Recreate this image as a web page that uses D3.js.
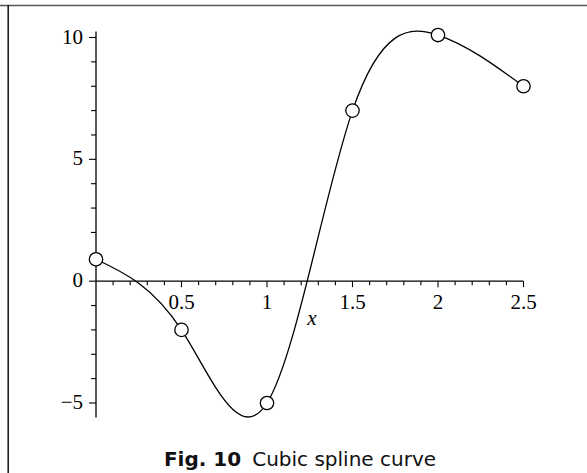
<!DOCTYPE html>
<html>
<head>
<meta charset="utf-8">
<script src="https://cdn.jsdelivr.net/npm/d3@7"></script>
<style>
  html, body { margin: 0; padding: 0; background: #fff; }
  svg { display: block; }
</style>
</head>
<body>
<script>
// ---- data ----
const xValues = [0, 0.5, 1, 1.5, 2, 2.5];
const yValues = [0.9, -2, -5, 7, 10.1, 8];
const xMajorTicks = [0.5, 1, 1.5, 2, 2.5];
const xTickLabels = ["0.5", "1", "1.5", "2", "2.5"];
const yMajorTicks = [-5, 0, 5, 10];
const yTickLabels = ["\u22125", "0", "5", "10"];
const xAxisExtent = [0, 2.5];
const yAxisExtent = [-5.6, 10.25];
const xAxisTitle = "x";
const captionBold = "Fig. 10";
const captionText = "Cubic spline curve";

const W = 587, H = 473;
const svg = d3.select("body").append("svg").attr("width", W).attr("height", H);

// frame lines
svg.append("line").attr("x1", 0).attr("x2", W).attr("y1", 5.5).attr("y2", 5.5)
  .attr("stroke", "#555").attr("stroke-width", 1.6);
svg.append("line").attr("x1", 8.2).attr("x2", 8.2).attr("y1", 5).attr("y2", H)
  .attr("stroke", "#111").attr("stroke-width", 1.5);

const x = d3.scaleLinear().domain([0, 2.5]).range([96, 523.5]);
const y = d3.scaleLinear().domain([-5, 10]).range([403, 37.5]);

const serif = "'Liberation Serif', 'DejaVu Serif', serif";

// y axis
const yMinor = d3.range(-5, 10.001, 1);
const gy = svg.append("g").attr("transform", `translate(${x(0)},0)`);
gy.append("line").attr("y1", y(yAxisExtent[0])).attr("y2", y(yAxisExtent[1]))
  .attr("stroke", "#000").attr("stroke-width", 1.3);
gy.selectAll("line.minor").data(yMinor).join("line").attr("class", "minor")
  .attr("x1", d => yMajorTicks.includes(d) ? -7 : -5).attr("x2", 0)
  .attr("y1", d => y(d)).attr("y2", d => y(d))
  .attr("stroke", "#000").attr("stroke-width", 1.1);
gy.selectAll("text").data(yMajorTicks).join("text")
  .attr("x", -13).attr("y", d => y(d) + 6)
  .attr("text-anchor", "end")
  .attr("font-family", serif).attr("font-size", 21)
  .text((d, i) => yTickLabels[i]);

// x axis
const xMinor = d3.range(0.1, 2.5001, 0.1).map(v => Math.round(v * 10) / 10);
const gx = svg.append("g").attr("transform", `translate(0,${y(0)})`);
gx.append("line").attr("x1", x(xAxisExtent[0])).attr("x2", x(xAxisExtent[1]))
  .attr("stroke", "#000").attr("stroke-width", 1.3);
gx.selectAll("line.minor").data(xMinor).join("line").attr("class", "minor")
  .attr("x1", d => x(d)).attr("x2", d => x(d))
  .attr("y1", 0).attr("y2", d => xMajorTicks.includes(d) ? 6 : 4)
  .attr("stroke", "#000").attr("stroke-width", 1.1);
gx.selectAll("text").data(xMajorTicks).join("text")
  .attr("x", d => x(d)).attr("y", 28)
  .attr("text-anchor", "middle")
  .attr("font-family", serif).attr("font-size", 21)
  .text((d, i) => xTickLabels[i]);

svg.append("text").attr("x", 312).attr("y", 325)
  .attr("text-anchor", "middle")
  .attr("font-family", serif).attr("font-style", "italic").attr("font-size", 21)
  .text(xAxisTitle);

// spline curve
const pts = xValues.map((v, i) => [v, yValues[i]]);
const line = d3.line().x(d => x(d[0])).y(d => y(d[1])).curve(d3.curveNatural);
svg.append("path").attr("d", line(pts))
  .attr("fill", "none").attr("stroke", "#000").attr("stroke-width", 1.3);

svg.selectAll("circle").data(pts).join("circle")
  .attr("cx", d => x(d[0])).attr("cy", d => y(d[1])).attr("r", 6.7)
  .attr("fill", "#fff").attr("stroke", "#000").attr("stroke-width", 1.3);

// caption
const cap = svg.append("text").attr("x", 300).attr("y", 466)
  .attr("text-anchor", "middle")
  .attr("font-family", "'DejaVu Sans', sans-serif").attr("font-size", 20)
  .attr("fill", "#111");
cap.append("tspan").attr("font-weight", "bold").text(captionBold);
cap.append("tspan").attr("dx", 11).text(captionText);
</script>
</body>
</html>
